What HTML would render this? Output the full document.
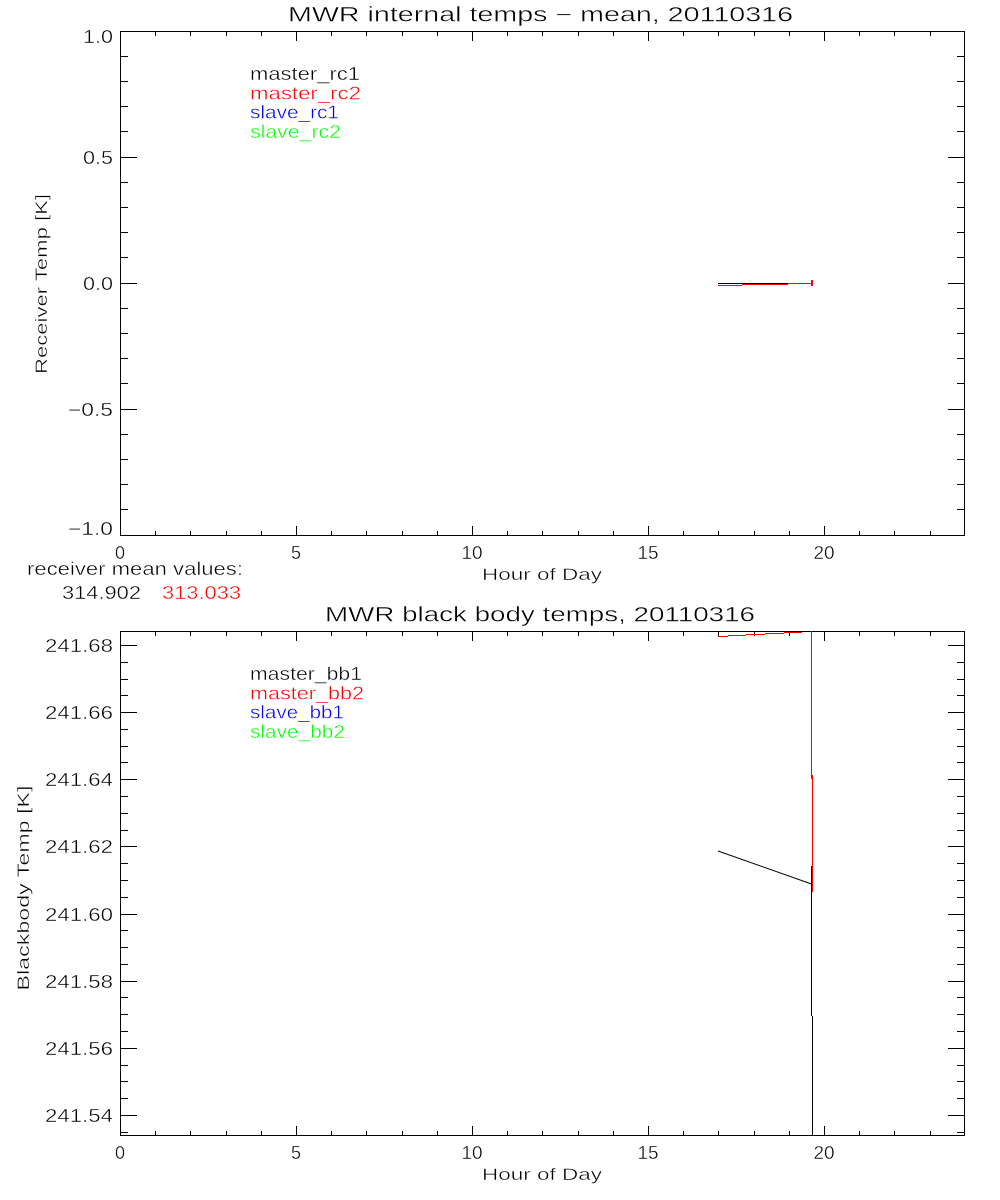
<!DOCTYPE html>
<html>
<head>
<meta charset="utf-8">
<style>
html,body{margin:0;padding:0;background:#fff;}
svg{display:block;}
text{font-family:"Liberation Sans", sans-serif; stroke:#fff; stroke-width:0.4px;}
</style>
</head>
<body>
<svg width="1000" height="1200" viewBox="0 0 1000 1200" xmlns="http://www.w3.org/2000/svg">
<rect x="0" y="0" width="1000" height="1200" fill="#fff"/>

<!-- ============ TOP PLOT ============ -->
<text x="288" y="21.5" font-size="21" textLength="505" lengthAdjust="spacingAndGlyphs" fill="#000">MWR internal temps − mean, 20110316</text>

<g stroke="#000" stroke-width="1" fill="none" shape-rendering="crispEdges">
<rect x="120.5" y="31.5" width="844" height="504"/>
<path d="M120 31.5h17M120 157.5h17M120 283.5h17M120 409.5h17M120 535.5h17
M120 56.5h8M120 81.5h8M120 106.5h8M120 131.5h8M120 182.5h8M120 207.5h8M120 232.5h8M120 257.5h8M120 308.5h8M120 333.5h8M120 358.5h8M120 383.5h8M120 434.5h8M120 459.5h8M120 484.5h8M120 509.5h8"/>
<path d="M965 31.5h-17M965 157.5h-17M965 283.5h-17M965 409.5h-17M965 535.5h-17
M965 56.5h-8M965 81.5h-8M965 106.5h-8M965 131.5h-8M965 182.5h-8M965 207.5h-8M965 232.5h-8M965 257.5h-8M965 308.5h-8M965 333.5h-8M965 358.5h-8M965 383.5h-8M965 434.5h-8M965 459.5h-8M965 484.5h-8M965 509.5h-8"/>
<path d="M296.5 536v-10M472.5 536v-10M648.5 536v-10M824.5 536v-10
M155.5 536v-5M190.5 536v-5M226.5 536v-5M261.5 536v-5M331.5 536v-5M366.5 536v-5M402.5 536v-5M437.5 536v-5M507.5 536v-5M542.5 536v-5M578.5 536v-5M613.5 536v-5M683.5 536v-5M718.5 536v-5M754.5 536v-5M789.5 536v-5M859.5 536v-5M894.5 536v-5M930.5 536v-5"/>
<path d="M296.5 31v10M472.5 31v10M648.5 31v10M824.5 31v10
M155.5 31v5M190.5 31v5M226.5 31v5M261.5 31v5M331.5 31v5M366.5 31v5M402.5 31v5M437.5 31v5M507.5 31v5M542.5 31v5M578.5 31v5M613.5 31v5M683.5 31v5M718.5 31v5M754.5 31v5M789.5 31v5M859.5 31v5M894.5 31v5M930.5 31v5"/>
</g>

<g font-size="18" fill="#000">
<text x="83" y="43" textLength="30" lengthAdjust="spacingAndGlyphs">1.0</text>
<text x="83" y="164" textLength="30" lengthAdjust="spacingAndGlyphs">0.5</text>
<text x="83" y="290" textLength="30" lengthAdjust="spacingAndGlyphs">0.0</text>
<text x="68" y="416" textLength="45" lengthAdjust="spacingAndGlyphs">−0.5</text>
<text x="68" y="535" textLength="45" lengthAdjust="spacingAndGlyphs">−1.0</text>
</g>
<g font-size="18" fill="#000">
<text x="115" y="559" textLength="10" lengthAdjust="spacingAndGlyphs">0</text>
<text x="291" y="559" textLength="10" lengthAdjust="spacingAndGlyphs">5</text>
<text x="461.5" y="559" textLength="21" lengthAdjust="spacingAndGlyphs">10</text>
<text x="637.5" y="559" textLength="21" lengthAdjust="spacingAndGlyphs">15</text>
<text x="813.5" y="559" textLength="21" lengthAdjust="spacingAndGlyphs">20</text>
</g>
<text x="482" y="580" font-size="17" textLength="120" lengthAdjust="spacingAndGlyphs" fill="#000">Hour of Day</text>
<text transform="translate(47,284) rotate(-90)" text-anchor="middle" font-size="17" textLength="180" lengthAdjust="spacingAndGlyphs" fill="#000">Receiver Temp [K]</text>

<g font-size="18">
<text x="250" y="80" fill="#000" textLength="110" lengthAdjust="spacingAndGlyphs">master_rc1</text>
<text x="250" y="99.3" fill="#ff0000" textLength="111" lengthAdjust="spacingAndGlyphs">master_rc2</text>
<text x="250" y="118.5" fill="#0000ff" textLength="89" lengthAdjust="spacingAndGlyphs">slave_rc1</text>
<text x="250" y="138" fill="#00ff00" textLength="91" lengthAdjust="spacingAndGlyphs">slave_rc2</text>
</g>

<g shape-rendering="crispEdges">
<rect x="718" y="283" width="70" height="1" fill="#000"/>
<rect x="718" y="285" width="24" height="1" fill="#ff0000"/>
<rect x="742" y="284" width="46" height="1" fill="#ff0000"/>
<rect x="788" y="283" width="24" height="1" fill="#ff0000"/>
<rect x="811" y="280" width="2" height="6" fill="#ff0000"/>
</g>

<text x="27" y="575" font-size="18" textLength="216" lengthAdjust="spacingAndGlyphs" fill="#000">receiver mean values:</text>
<text x="62" y="599" font-size="18" textLength="79" lengthAdjust="spacingAndGlyphs" fill="#000">314.902</text>
<text x="162" y="599" font-size="18" textLength="79" lengthAdjust="spacingAndGlyphs" fill="#ff0000">313.033</text>

<!-- ============ BOTTOM PLOT ============ -->
<text x="325" y="621.7" font-size="21" textLength="430" lengthAdjust="spacingAndGlyphs" fill="#000">MWR black body temps, 20110316</text>

<g stroke="#000" stroke-width="1" fill="none" shape-rendering="crispEdges">
<rect x="120.5" y="631.5" width="844" height="504"/>
<path d="M120 645.5h17M120 712.5h17M120 779.5h17M120 846.5h17M120 914.5h17M120 981.5h17M120 1048.5h17M120 1115.5h17
M120 662.5h8M120 679.5h8M120 695.5h8M120 729.5h8M120 746.5h8M120 762.5h8M120 796.5h8M120 813.5h8M120 830.5h8M120 863.5h8M120 880.5h8M120 897.5h8M120 930.5h8M120 947.5h8M120 964.5h8M120 997.5h8M120 1014.5h8M120 1031.5h8M120 1065.5h8M120 1081.5h8M120 1098.5h8M120 1132.5h8"/>
<path d="M965 645.5h-17M965 712.5h-17M965 779.5h-17M965 846.5h-17M965 914.5h-17M965 981.5h-17M965 1048.5h-17M965 1115.5h-17
M965 662.5h-8M965 679.5h-8M965 695.5h-8M965 729.5h-8M965 746.5h-8M965 762.5h-8M965 796.5h-8M965 813.5h-8M965 830.5h-8M965 863.5h-8M965 880.5h-8M965 897.5h-8M965 930.5h-8M965 947.5h-8M965 964.5h-8M965 997.5h-8M965 1014.5h-8M965 1031.5h-8M965 1065.5h-8M965 1081.5h-8M965 1098.5h-8M965 1132.5h-8"/>
<path d="M296.5 1136v-10M472.5 1136v-10M648.5 1136v-10M824.5 1136v-10
M155.5 1136v-5M190.5 1136v-5M226.5 1136v-5M261.5 1136v-5M331.5 1136v-5M366.5 1136v-5M402.5 1136v-5M437.5 1136v-5M507.5 1136v-5M542.5 1136v-5M578.5 1136v-5M613.5 1136v-5M683.5 1136v-5M718.5 1136v-5M754.5 1136v-5M789.5 1136v-5M859.5 1136v-5M894.5 1136v-5M930.5 1136v-5"/>
<path d="M296.5 631v10M472.5 631v10M648.5 631v10M824.5 631v10
M155.5 631v5M190.5 631v5M226.5 631v5M261.5 631v5M331.5 631v5M366.5 631v5M402.5 631v5M437.5 631v5M507.5 631v5M542.5 631v5M578.5 631v5M613.5 631v5M683.5 631v5M718.5 631v5M754.5 631v5M789.5 631v5M859.5 631v5M894.5 631v5M930.5 631v5"/>
</g>

<g font-size="18" fill="#000">
<text x="45" y="652" textLength="68" lengthAdjust="spacingAndGlyphs">241.68</text>
<text x="45" y="719" textLength="68" lengthAdjust="spacingAndGlyphs">241.66</text>
<text x="45" y="786" textLength="68" lengthAdjust="spacingAndGlyphs">241.64</text>
<text x="45" y="853" textLength="68" lengthAdjust="spacingAndGlyphs">241.62</text>
<text x="45" y="921" textLength="68" lengthAdjust="spacingAndGlyphs">241.60</text>
<text x="45" y="988" textLength="68" lengthAdjust="spacingAndGlyphs">241.58</text>
<text x="45" y="1055" textLength="68" lengthAdjust="spacingAndGlyphs">241.56</text>
<text x="45" y="1122" textLength="68" lengthAdjust="spacingAndGlyphs">241.54</text>
</g>
<g font-size="18" fill="#000">
<text x="115" y="1159" textLength="10" lengthAdjust="spacingAndGlyphs">0</text>
<text x="291" y="1159" textLength="10" lengthAdjust="spacingAndGlyphs">5</text>
<text x="461.5" y="1159" textLength="21" lengthAdjust="spacingAndGlyphs">10</text>
<text x="637.5" y="1159" textLength="21" lengthAdjust="spacingAndGlyphs">15</text>
<text x="813.5" y="1159" textLength="21" lengthAdjust="spacingAndGlyphs">20</text>
</g>
<text x="482" y="1180" font-size="17" textLength="120" lengthAdjust="spacingAndGlyphs" fill="#000">Hour of Day</text>
<text transform="translate(29,888) rotate(-90)" text-anchor="middle" font-size="17" textLength="205" lengthAdjust="spacingAndGlyphs" fill="#000">Blackbody Temp [K]</text>

<g font-size="18">
<text x="250" y="680" fill="#000" textLength="112" lengthAdjust="spacingAndGlyphs">master_bb1</text>
<text x="250" y="699.3" fill="#ff0000" textLength="114" lengthAdjust="spacingAndGlyphs">master_bb2</text>
<text x="250" y="718.6" fill="#0000ff" textLength="94" lengthAdjust="spacingAndGlyphs">slave_bb1</text>
<text x="250" y="738" fill="#00ff00" textLength="95" lengthAdjust="spacingAndGlyphs">slave_bb2</text>
</g>

<g shape-rendering="crispEdges">
<rect x="811" y="866" width="1" height="150" fill="#000"/>
<rect x="812" y="1016" width="1" height="119" fill="#000"/>
<rect x="718" y="636" width="10" height="1" fill="#ff0000"/>
<rect x="728" y="635" width="18" height="1" fill="#ff0000"/>
<rect x="746" y="634" width="19" height="1" fill="#ff0000"/>
<rect x="765" y="633" width="19" height="1" fill="#ff0000"/>
<rect x="784" y="632" width="18" height="1" fill="#ff0000"/>
<rect x="811" y="631" width="1" height="148" fill="#ff0000"/>
<rect x="812" y="775" width="1" height="117" fill="#ff0000"/>
</g>
<line x1="718" y1="851" x2="811.5" y2="884" stroke="#000" stroke-width="1"/>

</svg>
</body>
</html>
